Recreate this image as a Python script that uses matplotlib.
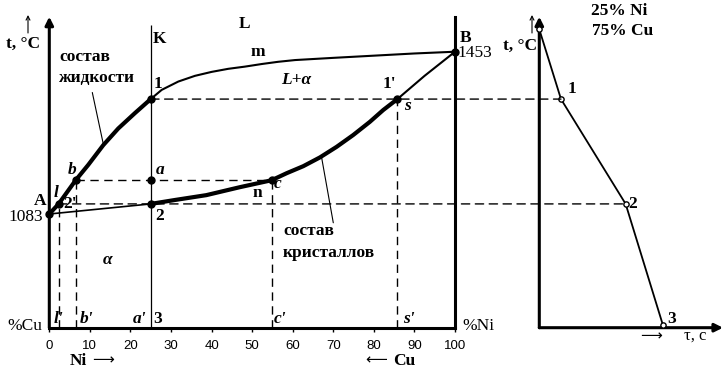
import matplotlib.pyplot as plt
from matplotlib.patches import ConnectionPatch

W, H = 725, 372

# линия ликвидус (состав жидкости): %Ni и температура, °C
liq_x = [0, 2.3, 6.5, 9.6, 13.3, 17.0, 21.1, 25,
         27.7, 31.8, 35.9, 40, 44.1, 48.2, 52.4, 56.4, 60.6, 70, 80, 90, 100]
liq_t = [1083, 1106, 1160, 1195, 1240, 1278, 1313, 1345,
         1366, 1385, 1398, 1407, 1414, 1419, 1425, 1430, 1434, 1439, 1444, 1449, 1453]
n_thick = 8  # жирная часть ликвидуса: от A до точки 1
# линия солидус (состав кристаллов)
sol_x = [0, 25, 31, 38.7, 46.9, 54.8, 58.5, 62.6, 66.7, 70.8, 74.9, 79.0, 82.3, 85.8, 92.5, 100]
sol_t = [1083, 1106, 1115, 1126, 1144, 1160, 1176, 1192, 1212, 1236, 1263, 1293, 1320, 1345, 1398, 1453]
i2, i_s = 1, 13  # жирная часть солидуса: от точки 2 до s

# характерные точки сплава К (25% Ni)
x_l, x_b, x_K, x_c, x_s = 2.3, 6.5, 25, 54.8, 85.8
t_1, t_a, t_2 = 1345, 1160, 1106
t_A, t_B = 1083, 1453
ni_ticks = list(range(0, 101, 10))

# кривая охлаждения (время, температура)
cool_tau = [0, 11.8, 47, 67.2]
cool_t = [1504, t_1, t_2, 831]

serif = ['Liberation Serif', 'DejaVu Sans']
plt.rcParams['font.family'] = serif

fig = plt.figure(figsize=(W / 100, H / 100), dpi=100)
bot, top = 327.7, 16.7
t_lo = t_A - (bot - 214) / 0.4386
t_hi = t_A + (214 - top) / 0.4386

ax = fig.add_axes([49.3 / W, 1 - bot / H, (455 - 49.3) / W, (bot - top) / H])
ax.set_xlim(0, 100)
ax.set_ylim(t_lo, t_hi)
ax2 = fig.add_axes([539.3 / W, 1 - bot / H, (723 - 539.3) / W, (bot - top) / H])
ax2.set_xlim(0, 100)
ax2.set_ylim(t_lo, t_hi)

# оси
for s in ['left', 'top']:
    ax.spines[s].set_visible(False)
ax.spines['bottom'].set_linewidth(2.2)
ax.spines['right'].set_linewidth(2.2)
ax.set_yticks([])
ax.set_xticks(ni_ticks)
ax.tick_params(axis='x', length=3, width=1, pad=5.5, labelsize=9.5)
for lb in ax.get_xticklabels():
    lb.set_family('Liberation Sans')
arr = dict(arrowstyle='-|>', color='k', lw=2.2, mutation_scale=12, shrinkA=0, shrinkB=0)
ax.annotate('', xy=(0, 1), xytext=(0, 0), xycoords='axes fraction', arrowprops=arr)

for s in ax2.spines.values():
    s.set_visible(False)
ax2.set_xticks([])
ax2.set_yticks([])
ax2.annotate('', xy=(0, 1), xytext=(0, 0), xycoords='axes fraction', arrowprops=arr)
ax2.annotate('', xy=(1, 0), xytext=(0, 0), xycoords='axes fraction', arrowprops=arr)

# маленькие стрелки над t, °C
small = dict(arrowstyle='->', color='k', lw=0.8, mutation_scale=7, shrinkA=0, shrinkB=0)
for px in [28, 532]:
    ax.annotate('', xy=(px, H - 15), xytext=(px, H - 33), xycoords='figure pixels', arrowprops=small)

# вертикаль сплава К
ax.vlines(x_K, t_lo, 1514, color='k', lw=0.9)

# ликвидус и солидус
ax.plot(liq_x[:n_thick], liq_t[:n_thick], color='k', lw=3, solid_capstyle='round', solid_joinstyle='round')
ax.plot(liq_x[n_thick - 1:], liq_t[n_thick - 1:], color='k', lw=1.5, solid_joinstyle='round')
ax.plot(sol_x[:i2 + 1], sol_t[:i2 + 1], color='k', lw=1.2)
ax.plot(sol_x[i2:i_s + 1], sol_t[i2:i_s + 1], color='k', lw=3, solid_capstyle='round', solid_joinstyle='round')
ax.plot(sol_x[i_s:], sol_t[i_s:], color='k', lw=1.5)

# пунктирные линии
dash = (0, (6, 4))
ax.vlines([x_l, x_b, x_c, x_s], t_lo, [t_2, t_a, t_a, t_1], color='k', lw=1, linestyles=dash)
ax.hlines(t_a, x_b, x_c, color='k', lw=1, linestyles=dash)
for xa, ta, tb in [(x_K, t_1, cool_tau[1]), (x_l, t_2, cool_tau[2])]:
    con = ConnectionPatch(xyA=(xa, ta), coordsA=ax.transData,
                          xyB=(tb, ta), coordsB=ax2.transData,
                          color='k', lw=1, linestyle=dash)
    fig.add_artist(con)

# точки
ax.plot([0, x_l, x_b, x_K, x_K, x_K, x_c, x_s, 100],
        [t_A, t_2, t_a, t_1, t_a, t_2, t_a, t_1, t_B],
        'o', color='k', ms=5, clip_on=False, zorder=5)

# кривая охлаждения
ax2.plot(cool_tau, cool_t, color='k', lw=1.3, clip_on=False)
ax2.plot(cool_tau, cool_t, 'o', mfc='white', mec='k', ms=3.8, mew=1, clip_on=False, zorder=5)

# выноски
thin = dict(arrowstyle='-', color='k', lw=0.8, shrinkA=0, shrinkB=0)
ax.annotate('', xy=(13.3, 1243), xytext=(10.6, 1360), arrowprops=thin)
ax.annotate('', xy=(67.1, 1213), xytext=(70, 1063), arrowprops=thin)


def txt(px, py, s, size=12.5, weight='bold', style='normal', ha='center'):
    fig.text(px / W, 1 - py / H, s, ha=ha, va='center', fontsize=size,
             fontweight=weight, fontstyle=style, family=serif)


bi = dict(style='italic')
txt(23, 44, 't, °C')
txt(159, 39, 'K')
txt(244, 24, 'L')
txt(258, 52, 'm')
txt(296, 80, 'L+α', **bi)
txt(389, 84, "1'")
txt(407, 106, 's', **bi)
txt(466, 38, 'B')
txt(475, 53, '1453', size=12.5, weight='normal')
txt(40, 201, 'A')
txt(26, 217, '1083', size=12.5, weight='normal')
txt(158, 84, '1')
txt(160, 170, 'a', **bi)
txt(160, 216, '2')
txt(72, 170, 'b', **bi)
txt(56, 193, 'l', **bi)
txt(70, 204, "2'")
txt(278, 184, 'c', **bi)
txt(257, 193, 'n')
txt(108, 260, 'α', **bi)
txt(59, 57, 'состав', ha='left')
txt(59, 78, 'жидкости', ha='left')
txt(283, 231, 'состав', ha='left')
txt(283, 253, 'кристаллов', ha='left')
for px, s in [(59, "l'"), (87, "b'"), (140, "a'"), (280, "c'"), (409, "s'")]:
    txt(px, 319, s, **bi)
txt(158, 319, '3')
txt(25, 326, '%Cu', weight='normal')
txt(478, 326, '%Ni', weight='normal')
txt(70, 361, 'Ni', ha='left')
txt(92, 361, '⟶', size=11, weight='normal', ha='left')
txt(415, 361, 'Cu', ha='right')
txt(365, 361, '⟵', size=11, weight='normal', ha='left')

# подписи к кривой охлаждения
txt(619, 11, '25% Ni')
txt(623, 31, '75% Cu')
txt(520, 46, 't, °C')
txt(572, 89, '1')
txt(633, 204, '2')
txt(672, 319, '3')
txt(640, 337, '⟶', size=11, weight='normal', ha='left')
txt(695, 336, 'τ, с', size=12, weight='normal')

fig.savefig('out.png', dpi=100)
